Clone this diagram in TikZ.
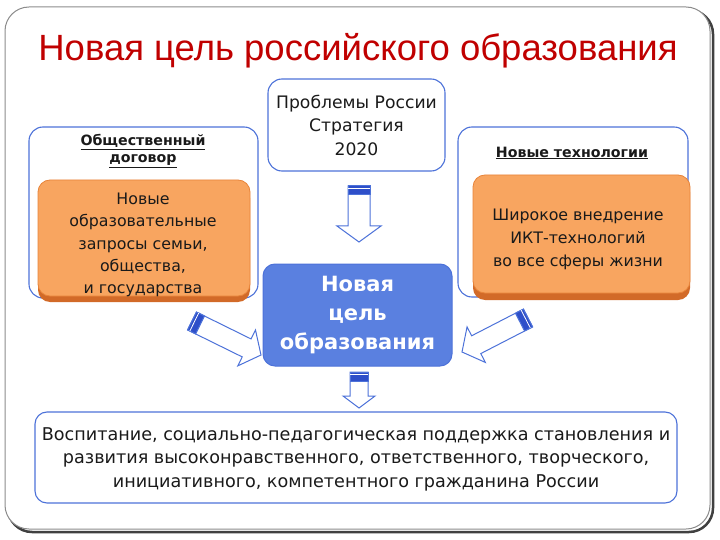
\documentclass[tikz,border=0pt]{standalone}
\usepackage{fontspec}
\setmainfont{DejaVu Sans}
\newfontfamily\titlefont{Liberation Sans}
\usetikzlibrary{calc}
\definecolor{frameg}{HTML}{8C8C8C}
\definecolor{bbord}{HTML}{4D72D9}
\definecolor{bfill}{HTML}{5A80E0}
\definecolor{ofill}{HTML}{F8A560}
\definecolor{oborder}{HTML}{E8843A}
\definecolor{oshadow}{HTML}{D26A28}
\definecolor{tred}{HTML}{C00000}
\definecolor{darr}{HTML}{2E4FC9}
\definecolor{txt}{HTML}{1A1A1A}
\newcommand\blockarr[5]{%
  \coordinate (hb) at ($(#2)!#5!(#1)$);
  \coordinate (tb) at ($(#1)!9pt!(#2)$);
  \coordinate (tl) at ($(#1)!2.5pt!(#2)$);
  \filldraw[arrowline] ($(#1)!#3!90:(#2)$) -- ($(hb)!#3!90:(#2)$) -- ($(hb)!#4!90:(#2)$)
     -- (#2) -- ($(hb)!#4!-90:(#2)$) -- ($(hb)!#3!-90:(#2)$) -- ($(#1)!#3!-90:(#2)$) -- cycle;
  \filldraw[arrowline, fill=darr] ($(#1)!#3!90:(#2)$) -- ($(tb)!#3!90:(#2)$) -- ($(tb)!#3!-90:(#2)$) -- ($(#1)!#3!-90:(#2)$) -- cycle;
  \draw[white, line width=0.8pt] ($(tl)!#3!90:(#2)$) -- ($(tl)!#3!-90:(#2)$);
}
\tikzset{
  outerbox/.style={draw=bbord, line width=1.1pt, fill=white, rounded corners=14pt},
  orangebox/.style={draw=oborder, line width=0.8pt, fill=ofill, rounded corners=12pt},
  otext/.style={text=txt, align=center},
  oshad/.style={fill=oshadow, rounded corners=12pt},
  subtitle/.style={align=center, font=\bfseries\fontsize{14.2}{17}\selectfont, text=txt},
  arrowline/.style={draw=bbord, line width=1pt, fill=white, line join=miter},
}
\begin{document}
\begin{tikzpicture}[x=1pt,y=-1pt]
\useasboundingbox (0,0) rectangle (720,540);
\fill[white] (0,0) rectangle (720,540);
% outer frame
\draw[rounded corners=24pt, line width=2.5pt, black!75] (8,10) rectangle (713,532);
\draw[rounded corners=24pt, line width=1pt, frameg, fill=white] (5,7) rectangle (710,529);
% title
\node[text=tred, font=\titlefont\fontsize{36.5}{40}\selectfont] (title) at (358,51) {Новая цель российского образования};
% top box
\node[outerbox, minimum width=177pt, minimum height=92pt, align=center, text=txt,
  font=\fontsize{17.2}{23.5}\selectfont] (top) at (356.5,125) {Проблемы России\\Стратегия\\2020};
% left group
\node[outerbox, minimum width=229pt, minimum height=171pt] (lout) at (143.5,212.5) {};
\node[subtitle] (ltitle) at (143,151) {\underline{Общественный}\\\underline{договор}};
\fill[oshad] (38,186) rectangle (250,302);
\node[orangebox, minimum width=212pt, minimum height=116pt] (lor) at (144,238) {};
\node[otext, font=\fontsize{15.8}{22.3}\selectfont] (lortext) at (143,245) {Новые\\образовательные\\запросы семьи,\\общества,\\и государства};
% right group
\node[outerbox, minimum width=230pt, minimum height=170pt] (rout) at (573,212) {};
\node[subtitle] (rtitle) at (572,153) {\underline{Новые технологии}};
\fill[oshad] (473,180) rectangle (690,300);
\node[orangebox, minimum width=217pt, minimum height=118pt] (ror) at (581.5,234) {};
\node[otext, font=\fontsize{15.8}{23}\selectfont] (rortext) at (578,239) {Широкое внедрение\\ИКТ-технологий\\во все сферы жизни};
% centre
\node[draw=bbord, line width=1pt, fill=bfill, rounded corners=12pt, minimum width=189pt, minimum height=102pt,
  text=white, align=center, font=\bfseries\fontsize{21}{29}\selectfont] (goal) at (357.5,315) {Новая\\цель\\образования};
% bottom
\node[outerbox, rounded corners=12pt, minimum width=642pt, minimum height=91pt] (res) at (356,457.5) {};
\node[align=center, text=txt, font=\fontsize{17.6}{23.5}\selectfont] (restext) at (356,459)
  {Воспитание, социально-педагогическая поддержка становления и\\развития высоконравственного, ответственного, творческого,\\инициативного, компетентного гражданина России};
% arrows
\coordinate (a1t) at (359,186); \coordinate (a1p) at (359,242);
\coordinate (a2t) at (192,321); \coordinate (a2p) at (261,355);
\coordinate (a3t) at (528,318); \coordinate (a3p) at (462,352);
\coordinate (a4t) at (359,372); \coordinate (a4p) at (359,408);
\blockarr{a1t}{a1p}{11pt}{22pt}{16pt}
\blockarr{a2t}{a2p}{10pt}{20pt}{16pt}
\blockarr{a3t}{a3p}{10pt}{20pt}{16pt}
\blockarr{a4t}{a4p}{9pt}{16pt}{12pt}
\end{tikzpicture}
\end{document}
